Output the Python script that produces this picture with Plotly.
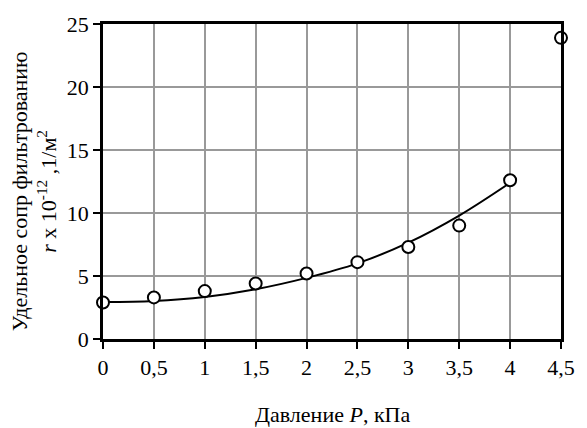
import plotly.graph_objects as go

pressure = [0, 0.5, 1, 1.5, 2, 2.5, 3, 3.5, 4, 4.5]
resistance = [2.9, 3.3, 3.8, 4.4, 5.2, 6.1, 7.3, 9.0, 12.6, 23.9]
trend_x = [0, 0.5, 1, 1.5, 2, 2.5, 3, 3.5, 4]
trend_y = [2.94, 3.02, 3.34, 3.95, 4.85, 6.0, 7.65, 9.8, 12.4]
x_ticks = [0, 0.5, 1, 1.5, 2, 2.5, 3, 3.5, 4, 4.5]
x_tick_labels = ["0", "0,5", "1", "1,5", "2", "2,5", "3", "3,5", "4", "4,5"]
y_ticks = [0, 5, 10, 15, 20, 25]

fig = go.Figure()
fig.add_trace(go.Scatter(x=trend_x, y=trend_y, mode="lines",
                         line=dict(color="black", width=2, shape="spline", smoothing=1.0),
                         hoverinfo="skip"))
fig.add_trace(go.Scatter(x=pressure, y=resistance, mode="markers",
                         marker=dict(symbol="circle", size=12, color="white",
                                     line=dict(color="black", width=2)),
                         cliponaxis=False))

FAM = "Times New Roman, Liberation Serif, DejaVu Serif, serif"
font = dict(family=FAM, size=22, color="black")
fig.update_layout(
    width=587, height=428,
    margin=dict(l=103, r=17, t=20, b=89),
    paper_bgcolor="white", plot_bgcolor="white",
    showlegend=False, font=font,
    xaxis=dict(range=[0, 4.5], tickvals=x_ticks, ticktext=x_tick_labels,
               showgrid=True, gridcolor="#999999", gridwidth=1.5,
               showline=True, linecolor="black", linewidth=2.5, mirror=True,
               ticks="outside", ticklen=7, tickwidth=2, tickcolor="black",
               zeroline=False, tickfont=font),
    yaxis=dict(range=[0, 25], tickvals=y_ticks, ticksuffix="\u2002",
               showgrid=True, gridcolor="#999999", gridwidth=1.5,
               showline=True, linecolor="black", linewidth=2.5, mirror=True,
               ticks="outside", ticklen=7, tickwidth=2, tickcolor="black",
               zeroline=False, tickfont=font),
    annotations=[
        dict(text="Давление <i>P</i>, кПа", xref="paper", yref="paper",
             x=0.5, y=-0.24, xanchor="center", yanchor="middle",
             showarrow=False, font=dict(family=FAM, size=22, color="black")),
        dict(text="Удельное сопр фильтрованию<br><i>r</i> x 10<sup>-12</sup> ,1/м<sup>2</sup>",
             xref="paper", yref="paper", x=-0.15, y=0.47, xanchor="center", yanchor="middle",
             textangle=-90, showarrow=False,
             font=dict(family=FAM, size=22, color="black")),
    ],
)
fig.write_html("out.html")
